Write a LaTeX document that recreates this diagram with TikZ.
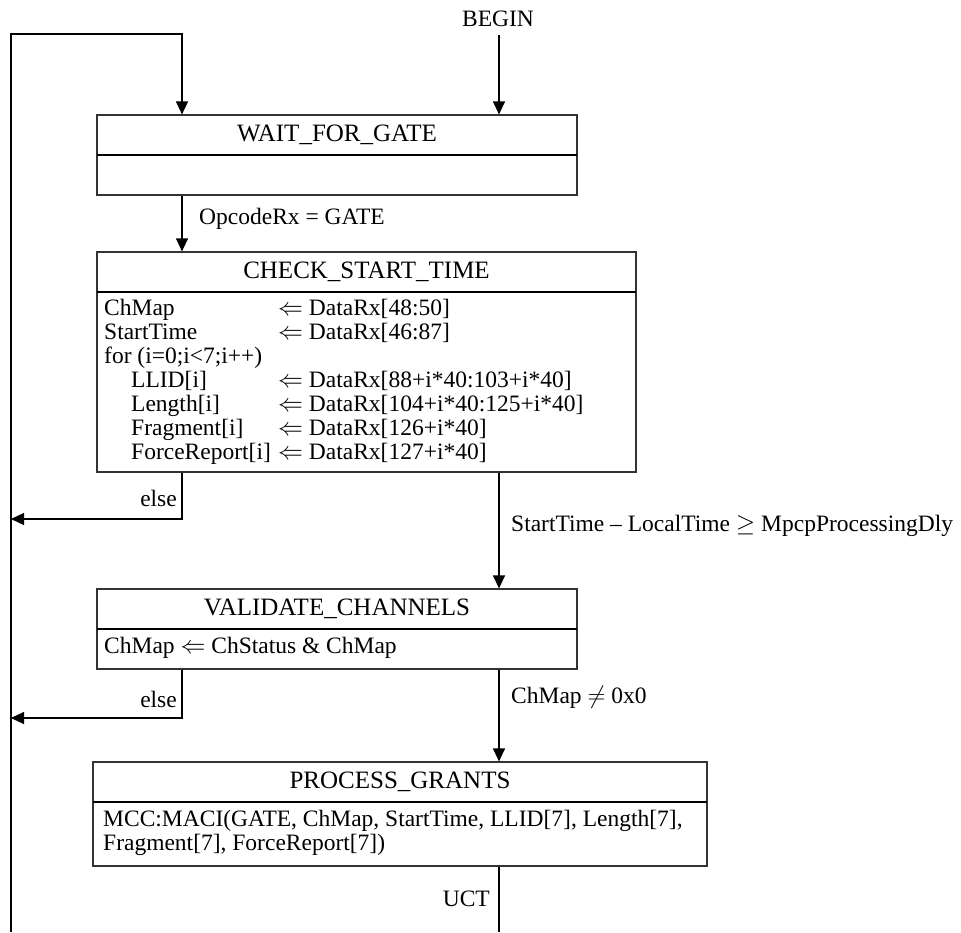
\documentclass[tikz,border=0pt]{standalone}
\usepackage{fontspec}
\setmainfont{Liberation Serif}
\usetikzlibrary{arrows.meta}

\begin{document}
\begin{tikzpicture}[x=1pt, y=-1pt,
		box/.style={draw=black!80, line width=1.2pt},
		head/.style={anchor=north, minimum height=40pt, inner sep=0pt, font=\fontsize{25}{27}\selectfont},
		body/.style={anchor=base west, align=left, inner sep=0pt, font=\fontsize{23.5}{24}\selectfont},
		lbl/.style={inner sep=0pt, font=\fontsize{23.5}{24}\selectfont},
		divider/.style={line width=2pt},
		flow/.style={line width=1.2pt, -{Triangle[width=12pt,length=13pt]}},
		wire/.style={line width=1.2pt}]
		
		\useasboundingbox (0,0) rectangle (961,932);
		
		% Columns
		\coordinate (xl) at (182,0);
		\coordinate (xr) at (499,0);
		\coordinate (looptop) at (11,34);
		\coordinate (loopbot) at (11,932);
		\coordinate (elseone) at (11,519);
		\coordinate (elsetwo) at (11,718);
		\coordinate (uct) at (499,932);
		
		% States
		\node[box, minimum width=480pt, minimum height=80pt] (wait) at (337,155) {};
		\node[head, minimum width=480pt] (waithead) at (wait.north) {WAIT\_FOR\_GATE};
		\draw[divider] (waithead.south west) -- (waithead.south east);
		
		\node[box, minimum width=539pt, minimum height=220pt] (check) at (366.5,362) {};
		\node[head, minimum width=539pt] (checkhead) at (check.north) {CHECK\_START\_TIME};
		\draw[divider] (checkhead.south west) -- (checkhead.south east);
		
		\node[box, minimum width=480pt, minimum height=80pt] (valid) at (337,629) {};
		\node[head, minimum width=480pt] (validhead) at (valid.north) {VALIDATE\_CHANNELS};
		\draw[divider] (validhead.south west) -- (validhead.south east);
		
		\node[box, minimum width=614pt, minimum height=104pt] (proc) at (400,814) {};
		\node[head, minimum width=614pt] (prochead) at (proc.north) {PROCESS\_GRANTS};
		\draw[divider] (prochead.south west) -- (prochead.south east);
		
		% Actions (base = last line)
		\node[body] (checkbody) at (104,459) {%
			\makebox[174pt][l]{ChMap}$\Leftarrow$ DataRx[48:50]\\
			\makebox[174pt][l]{StartTime}$\Leftarrow$ DataRx[46:87]\\
			for (i=0;i\textless7;i++)\\
			\hspace*{27pt}\makebox[147pt][l]{LLID[i]}$\Leftarrow$ DataRx[88+i*40:103+i*40]\\
			\hspace*{27pt}\makebox[147pt][l]{Length[i]}$\Leftarrow$ DataRx[104+i*40:125+i*40]\\
			\hspace*{27pt}\makebox[147pt][l]{Fragment[i]}$\Leftarrow$ DataRx[126+i*40]\\
			\hspace*{27pt}\makebox[147pt][l]{ForceReport[i]}$\Leftarrow$ DataRx[127+i*40]};
		
		\node[body] (validbody) at (104,653) {ChMap $\Leftarrow$ ChStatus \& ChMap};
		
		\node[body] (procbody) at (103,850) {MCC:MACI(GATE, ChMap, StartTime, LLID[7], Length[7],\\
			Fragment[7], ForceReport[7])};
		
		% Labels
		\node[lbl, anchor=base] (begin) at (498,26) {BEGIN};
		\node[lbl, anchor=base west] (opcode) at (199,224) {OpcodeRx = GATE};
		\node[lbl, anchor=base east] (elsecheck) at (177,506) {else};
		\node[lbl, anchor=base west] (starttime) at (511,531) {StartTime -- LocalTime $\geq$ MpcpProcessingDly};
		\node[lbl, anchor=base east] (elsevalid) at (177,707) {else};
		\node[lbl, anchor=base west] (chmap) at (511,703) {ChMap $\neq$ 0x0};
		\node[lbl, anchor=base east] (uctlabel) at (490,906) {UCT};
		
		% Flows
		\draw[flow, shorten <=9pt] (begin.south -| xr) -- (wait.north -| xr);
		\draw[flow] (loopbot) -- (looptop) -| (wait.north -| xl);
		\draw[flow] (wait.south -| xl) -- (check.north -| xl);
		\draw[flow] (check.south -| xl) |- (elseone);
		\draw[flow] (check.south -| xr) -- (valid.north -| xr);
		\draw[flow] (valid.south -| xl) |- (elsetwo);
		\draw[flow] (valid.south -| xr) -- (proc.north -| xr);
		\draw[wire] (proc.south -| xr) -- (uct);
		
	\end{tikzpicture}
\end{document}
